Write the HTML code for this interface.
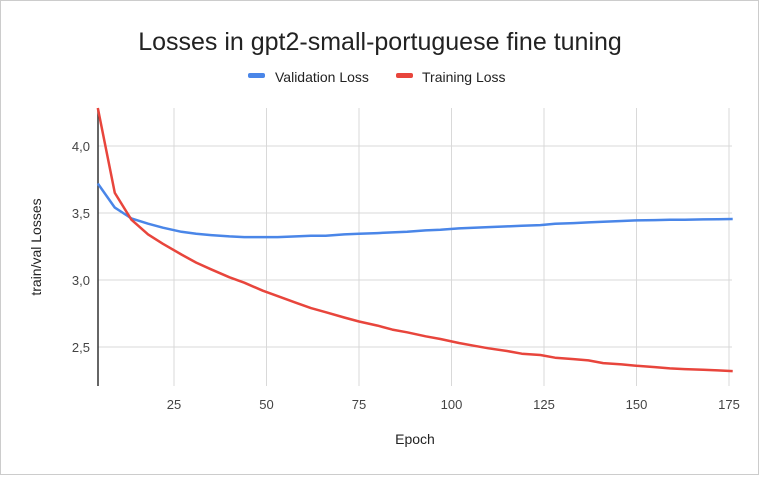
<!DOCTYPE html>
<html><head><meta charset="utf-8"><style>
body{margin:0;background:#fff;font-family:"Liberation Sans",Arial,sans-serif}
</style></head><body>
<svg width="759" height="475" viewBox="0 0 759 475" xmlns="http://www.w3.org/2000/svg">
<rect x="0.5" y="0.5" width="758" height="474" fill="#fff" stroke="#ccc"/>
<text x="380" y="50" text-anchor="middle" font-size="25" fill="#222">Losses in gpt2-small-portuguese fine tuning</text>
<g>
<rect x="248" y="73" width="17" height="5" rx="2" fill="#4a86e8"/>
<text x="275" y="82" font-size="14" fill="#222">Validation Loss</text>
<rect x="396" y="73" width="17" height="5" rx="2" fill="#e8453c"/>
<text x="422" y="82" font-size="14" fill="#222">Training Loss</text>
</g>
<g id="grid"></g>
<g id="marks"></g>
<text transform="translate(41,247) rotate(-90)" text-anchor="middle" font-size="14" fill="#222">train/val Losses</text>
<text x="415" y="444" text-anchor="middle" font-size="14" fill="#222">Epoch</text>
</svg>
<script>
const xTicks=[25,50,75,100,125,150,175];
const yTicks=[2.5,3.0,3.5,4.0];
const yTickLabels=["2,5","3,0","3,5","4,0"];
const epochs=[4.4,9,13.5,18,22,27,31,35,40,44,49,53,58,62,66,71,75,80,84,88,93,97,102,106,110,115,119,124,128,133,137,141,146,150,155,159,163,168,172,176];
const trainLoss=[4.3,3.65,3.45,3.34,3.27,3.19,3.13,3.08,3.02,2.98,2.92,2.88,2.83,2.79,2.76,2.72,2.69,2.66,2.63,2.61,2.58,2.56,2.53,2.51,2.49,2.47,2.45,2.44,2.42,2.41,2.40,2.38,2.37,2.36,2.35,2.34,2.335,2.33,2.325,2.32];
const valLoss=[3.72,3.54,3.46,3.42,3.39,3.36,3.345,3.335,3.325,3.32,3.32,3.32,3.325,3.33,3.33,3.34,3.345,3.35,3.355,3.36,3.37,3.375,3.385,3.39,3.395,3.40,3.405,3.41,3.42,3.425,3.43,3.435,3.44,3.445,3.447,3.449,3.45,3.452,3.454,3.455];
const NS="http://www.w3.org/2000/svg";
const L=98,R=732,T=108,B=386;
const xs=v=>81.5+(v)*3.7;
const ys=v=>280-(v-3.0)*134;
const grid=document.getElementById('grid'),marks=document.getElementById('marks');
function mk(tag,attrs,parent){const e=document.createElementNS(NS,tag);for(const k in attrs)e.setAttribute(k,attrs[k]);parent.appendChild(e);return e;}
xTicks.forEach((t,i)=>{
 const l=mk('line',{x1:xs(t),x2:xs(t),y1:T,y2:B,stroke:'#d9d9d9'},grid);
 
 
 const tx=mk('text',{x:xs(t),y:409,'text-anchor':'middle','font-size':13,fill:'#444'},grid);
 tx.textContent=t;
 
 
});
yTicks.forEach((t,i)=>{
 const l=mk('line',{x1:L,x2:R,y1:ys(t),y2:ys(t),stroke:'#d9d9d9'},grid);
 
 
 const tx=mk('text',{x:90,y:ys(t)+5,'text-anchor':'end','font-size':13,fill:'#444'},grid);
 tx.textContent=yTickLabels[i];
 
 
});
const ax=mk('line',{x1:L,x2:L,y1:T,y2:B,stroke:'#333','stroke-width':1.5},grid);


function series(vals,color,name){
 const d=vals.map((v,i)=>(i?'L':'M')+xs(epochs[i]).toFixed(1)+','+Math.max(T,ys(v)).toFixed(1)).join(' ');
 const p=mk('path',{d:d,fill:'none',stroke:color,'stroke-width':2.5,'stroke-linejoin':'round'},marks);
 
 
}
series(valLoss,'#4a86e8','validation-loss-line');
series(trainLoss,'#e8453c','training-loss-line');
</script>
</body></html>
